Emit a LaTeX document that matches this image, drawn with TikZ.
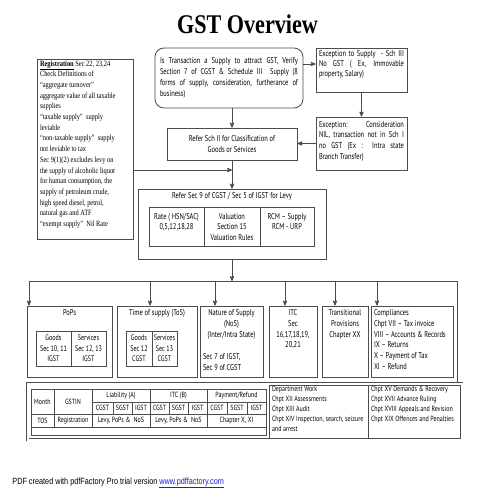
\documentclass[tikz,border=0pt]{standalone}
\usepackage{fontspec}
\usetikzlibrary{arrows,positioning}
\newfontfamily\titlefont[FakeStretch=0.82]{Liberation Serif}
\newfontfamily\regfont[FakeStretch=0.8]{Liberation Serif}
\newfontfamily\boxfont[FakeStretch=0.76]{PT Sans}
\newfontfamily\tabfont[FakeStretch=0.8]{PT Sans}
\newfontfamily\footfont[FakeStretch=0.81]{Liberation Sans}
\definecolor{linec}{gray}{0.3}
\definecolor{linkc}{RGB}{30,30,200}
% top aligned text in a box of given size: [pad]{width}{height}{text}
\newcommand{\bx}[4][2pt]{\parbox[c][#3][t]{\dimexpr#2-6pt\relax}{\vspace*{#1}#4}}

\begin{document}
\begin{tikzpicture}[>=stealth', x=1pt, y=-1pt, line width=0.8pt,
	box/.style={draw=linec, inner xsep=3pt, inner ysep=0pt, font=\boxfont\fontsize{8.5}{10.8}\selectfont},
	cell/.style={draw=linec, inner sep=0pt, align=center, font=\boxfont\fontsize{8}{10.5}\selectfont},
	tcell/.style={draw=linec, line width=0.6pt, inner sep=0pt, align=center, font=\tabfont\fontsize{7.5}{8}\selectfont},
	wire/.style={->, draw=linec}]
	\fill[white] (0,0) rectangle (495,495);
	\useasboundingbox (0,0) rectangle (495,495);

	\node[font=\titlefont\bfseries\fontsize{27}{30}\selectfont] (title) at (247.5,24.5) {GST Overview};

	\node[box, font=\regfont\fontsize{8}{10.7}\selectfont] (reg) at (85,149) {\bx[1.5pt]{96pt}{180pt}{\raggedright
		\textbf{\underline{Registration}} Sec 22, 23,24\\
		Check Definitions of\\
		“aggregate turnover”\\
		aggregate value of all taxable\\
		supplies\\
		“taxable supply”\ \ supply\\
		leviable\\
		“non-taxable supply”\ \ supply\\
		not leviable to tax\\
		Sec 9(1)(2) excludes levy on\\
		the supply of alcoholic liquor\\
		for human consumption, the\\
		supply of petroleum crude,\\
		high speed diesel, petrol,\\
		natural gas and ATF\\
		“exempt supply”\ \ Nil Rate}};

	\node[box, rounded corners=9pt, minimum width=148pt, minimum height=60pt, text width=138pt, align=justify] (supply) at (229,78)
		{Is Transaction a Supply to attract GST, Verify\linebreak Section 7 of CGST \& Schedule III\ \ Supply (8\linebreak forms of supply, consideration, furtherance of\linebreak business)};
	\node[box, font=\boxfont\fontsize{8.5}{10}\selectfont] (exc) at (361.5,70)
		{\bx[2pt]{91pt}{44pt}{Exception to Supply\ \ - Sch III\linebreak No GST ( Ex, Immovable\linebreak property, Salary)}};
	\node[box, font=\boxfont\fontsize{8.5}{10.7}\selectfont] (nil) at (361.5,143.5)
		{\bx[4pt]{91pt}{53pt}{Exception:\hfill Consideration\linebreak NIL, transaction not in Sch I\linebreak no GST (Ex : Intra state\linebreak Branch Transfer)}};
	\node[box, minimum width=130pt, minimum height=32pt, align=center] (sch2) at (232,144)
		{Refer Sch II for Classification of\\ Goods or Services};

	\node[box] (levy) at (232,224) {\bx[3.5pt]{188pt}{70pt}{\centering Refer Sec 9 of CGST / Sec 5 of IGST for Levy}};
	\node[box] (rate) at (176.5,226.5) {\bx[6pt]{55pt}{39pt}{\centering Rate ( HSN/SAC)\\0,5,12,18,28}};
	\node[box] (valu) at (232,226.5) {\bx[6pt]{56pt}{39pt}{\centering Valuation\\Section 15\\Valuation Rules}};
	\node[box] (rcm) at (287,226.5) {\bx[6pt]{54pt}{39pt}{\centering RCM – Supply\\RCM - URP}};

	\node[box] (pops) at (69.5,341.5) {\bx[3.5pt]{85pt}{71pt}{\centering PoPs}};
	\node[cell, minimum width=35pt, minimum height=35pt] (popsg) at (53.5,348.5) {Goods\\Sec 10, 11\\IGST};
	\node[cell, minimum width=35pt, minimum height=35pt] (popss) at (88.5,348.5) {Services\\Sec 12, 13\\IGST};
	\node[box] (tos) at (157,341.5) {\bx[3.5pt]{80pt}{71pt}{\centering Time of supply (ToS)}};
	\node[cell, minimum width=26pt, minimum height=35pt] (tosg) at (139,348.5) {Goods\\Sec 12\\CGST};
	\node[cell, minimum width=25pt, minimum height=35pt] (toss) at (164.5,348.5) {Services\\Sec 13\\CGST};
	\node[box] (nos) at (231.5,341.5) {\bx[3.5pt]{63pt}{71pt}{\centering Nature of Supply\\(NoS)\\(Inter/Intra State)\par
		\vspace{12pt}\raggedright Sec 7 of IGST,\\Sec 9 of CGST}};
	\node[box] (itc) at (293,341.5) {\bx[3.5pt]{48pt}{71pt}{\centering ITC\\Sec\\16,17,18,19,\\20,21}};
	\node[box] (trans) at (345,341.5) {\bx[3.5pt]{46pt}{71pt}{\centering Transitional\\Provisions\\Chapter XX}};
	\node[box] (comp) at (412,341.5) {\bx[3.5pt]{82pt}{71pt}{\raggedright Compliances\\Chpt VII – Tax invoice\\VIII – Accounts \& Records\\IX – Returns\\X – Payment of Tax\\XI – Refund}};

	% returns table
	\node[draw=linec, double, double distance=2pt, line width=0.6pt, minimum width=434pt, minimum height=56pt, inner sep=0pt] (frame) at (244.5,411.5) {};
	\node[box, line width=0.6pt, font=\tabfont\fontsize{7.5}{10}\selectfont] (dept) at (318.5,411.5)
		{\bx[1.5pt]{99pt}{53pt}{\raggedright Department Work\\Chpt XII Assessments\\Chpt XIII Audit\\Chpt XIV Inspection, search, seizure\\and arrest}};
	\node[box, line width=0.6pt, font=\tabfont\fontsize{7.5}{10}\selectfont] (chap) at (414,411.5)
		{\bx[1.5pt]{92pt}{53pt}{\raggedright Chpt XV Demands \& Recovery\\Chpt XVII Advance Ruling\\Chpt XVIII Appeals and Revision\\Chpt XIX Offences and Penalties}};
	\node[tcell, minimum width=23pt, minimum height=25pt] (month) at (42.5,401.5) {Month};
	\node[tcell, minimum width=38pt, minimum height=25pt] (gstin) at (73,401.5) {GSTIN};
	\node[tcell, minimum width=58pt, minimum height=13pt] (liab) at (121,395.5) {Liability (A)};
	\node[tcell, minimum width=57pt, minimum height=13pt] (itcb) at (178.5,395.5) {ITC (B)};
	\node[tcell, minimum width=59pt, minimum height=13pt] (pay) at (236.5,395.5) {Payment/Refund};
	\node[tcell, minimum width=21pt, minimum height=12pt] (lc) at (102.5,408) {CGST};
	\node[tcell, minimum width=19pt, minimum height=12pt] (ls) at (122.5,408) {SGST};
	\node[tcell, minimum width=18pt, minimum height=12pt] (li) at (141,408) {IGST};
	\node[tcell, minimum width=19pt, minimum height=12pt] (ic) at (159.5,408) {CGST};
	\node[tcell, minimum width=19pt, minimum height=12pt] (is) at (178.5,408) {SGST};
	\node[tcell, minimum width=19pt, minimum height=12pt] (ii) at (197.5,408) {IGST};
	\node[tcell, minimum width=20pt, minimum height=12pt] (pc) at (217,408) {CGST};
	\node[tcell, minimum width=20pt, minimum height=12pt] (ps) at (237,408) {SGST};
	\node[tcell, minimum width=19pt, minimum height=12pt] (pi) at (256.5,408) {IGST};
	\node[tcell, minimum width=23pt, minimum height=13pt] (tosc) at (42.5,420.5) {TOS};
	\node[tcell, minimum width=38pt, minimum height=13pt] (regc) at (73,420.5) {Registration};
	\node[tcell, minimum width=58pt, minimum height=13pt] (levya) at (121,420.5) {Levy, PoPs \&\ \ NoS};
	\node[tcell, minimum width=57pt, minimum height=13pt] (levyb) at (178.5,420.5) {Levy, PoPs \&\ \ NoS};
	\node[tcell, minimum width=59pt, minimum height=13pt] (chapx) at (236.5,420.5) {Chapter X, XI};
	\node[tcell, minimum width=235pt, minimum height=8pt] (blank) at (148.5,431) {};

	\node[anchor=west, inner sep=0pt, font=\footfont\fontsize{9}{10}\selectfont] (foot) at (12,483)
		{PDF created with pdfFactory Pro trial version \textcolor{linkc}{\underline{www.pdffactory.com}}};

	% connectors
	\draw[wire] ([yshift=14pt]supply.east) -- ([yshift=14pt]supply.east -| exc.west);
	\path (exc) edge[wire] (nil);
	\draw[wire] (nil.west) -- (nil.west -| sch2.east);
	\draw[wire] (supply.south -| sch2.north) -- (sch2.north);
	\draw[wire] (sch2) -- (levy);
	\draw[wire] ([yshift=-21pt]reg.east) -- ([yshift=-21pt]reg.east -| sch2.south);
	\coordinate (busL) at (29,281);
	\coordinate (busR) at (457,281);
	\draw[wire] (levy.south) -- (levy.south |- busL);
	\draw[draw=linec] (busL) -- (busR) -- (busR |- frame.north);
	\draw[wire] (busL) -- (busL |- pops.north);
	\draw[wire] ([xshift=-7pt]tos.north |- busL) -- ([xshift=-7pt]tos.north);
	\draw[wire] ([xshift=-16.5pt]nos.north |- busL) -- ([xshift=-16.5pt]nos.north);
	\draw[wire] ([xshift=-8pt]itc.north |- busL) -- ([xshift=-8pt]itc.north);
	\draw[wire] ([xshift=-10pt]trans.north |- busL) -- ([xshift=-10pt]trans.north);
	\draw[wire] ([xshift=-35pt]comp.north |- busL) -- ([xshift=-35pt]comp.north);
\end{tikzpicture}
\end{document}
